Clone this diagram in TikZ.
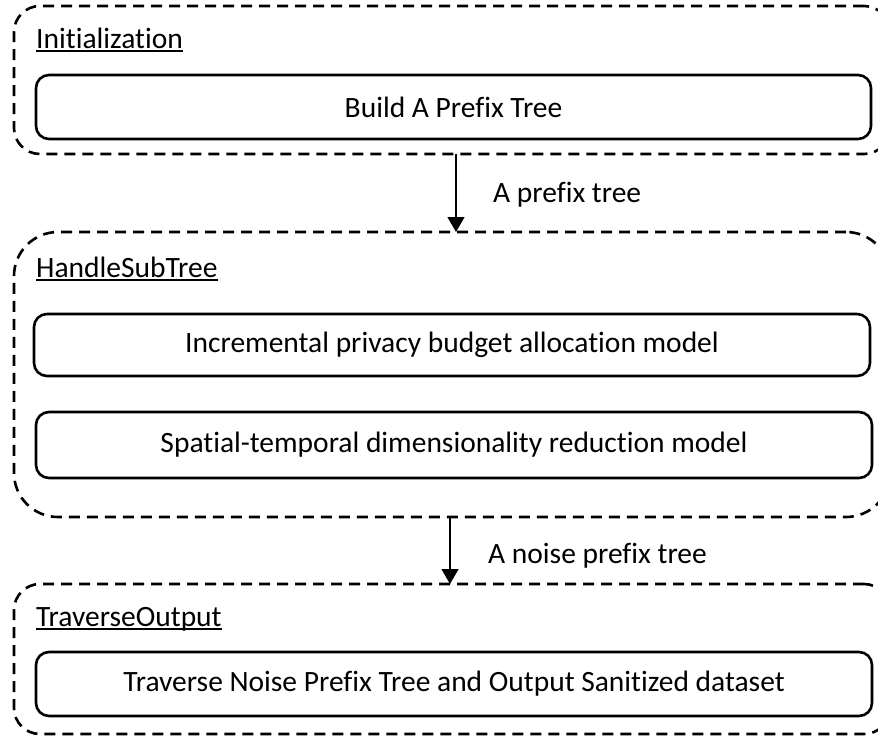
\documentclass[tikz,border=0pt]{standalone}
\usepackage{fontspec}
\setmainfont[Ligatures=NoCommon]{Carlito}
\usetikzlibrary{arrows.meta}
\begin{document}
\begin{tikzpicture}[x=1pt,y=-1pt,
  group/.style={draw, line width=2.6pt, dash pattern=on 11pt off 7pt,
    inner sep=0pt, outer sep=0pt, anchor=north west},
  stepbox/.style={draw, line width=2.6pt, rounded corners=13pt,
    inner sep=0pt, outer sep=0pt, anchor=north west,
    font=\fontsize{29.5}{34}\selectfont},
  grouplabel/.style={anchor=base west, inner sep=0pt, font=\fontsize{29.5}{34}\selectfont},
  ul/.style={line width=2.2pt},
  flowlabel/.style={anchor=base west, inner sep=0pt, font=\fontsize{29.5}{34}\selectfont},
  flow/.style={line width=1.4pt, -{Triangle[length=15pt,width=17pt]}}
]
\useasboundingbox (0,0) rectangle (878,736);
\clip (0,0) rectangle (878,736);

% groups
\node[group, rounded corners=26pt, minimum width=876pt, minimum height=148pt] (g1) at (14,6) {};
\node[group, rounded corners=44pt, minimum width=876pt, minimum height=285pt] (g2) at (14,232) {};
\node[group, rounded corners=26pt, minimum width=876pt, minimum height=150pt] (g3) at (14,584) {};

% group labels
\node[grouplabel] (l1) at (36,48) {Initialization};
\node[grouplabel] (l2) at (36,277) {HandleSubTree};
\node[grouplabel] (l3) at (36,626) {TraverseOutput};
\foreach \l in {l1,l2,l3}
  \draw[ul] ([yshift=-3pt]\l.base west) -- ([yshift=-3pt]\l.base east);

% step boxes
\node[stepbox, minimum width=835pt, minimum height=64pt] (b1) at (36,75) {Build A Prefix Tree};
\node[stepbox, minimum width=836pt, minimum height=62pt] (b2) at (34,314) {Incremental privacy budget allocation model};
\node[stepbox, minimum width=836pt, minimum height=66pt] (b3) at (36,412) {Spatial-temporal dimensionality reduction model};
\node[stepbox, minimum width=836pt, minimum height=64pt] (b4) at (36,652) {Traverse Noise Prefix Tree and Output Sanitized dataset};

% connectors
\coordinate (a1) at (456,0);
\coordinate (a2) at (450,0);
\draw[flow] (a1 |- g1.south) -- (a1 |- g2.north);
\draw[flow] (a2 |- g2.south) -- (a2 |- g3.north);
\node[flowlabel] (t1) at (493,202) {A prefix tree};
\node[flowlabel] (t2) at (488,563) {A noise prefix tree};
\end{tikzpicture}
\end{document}
